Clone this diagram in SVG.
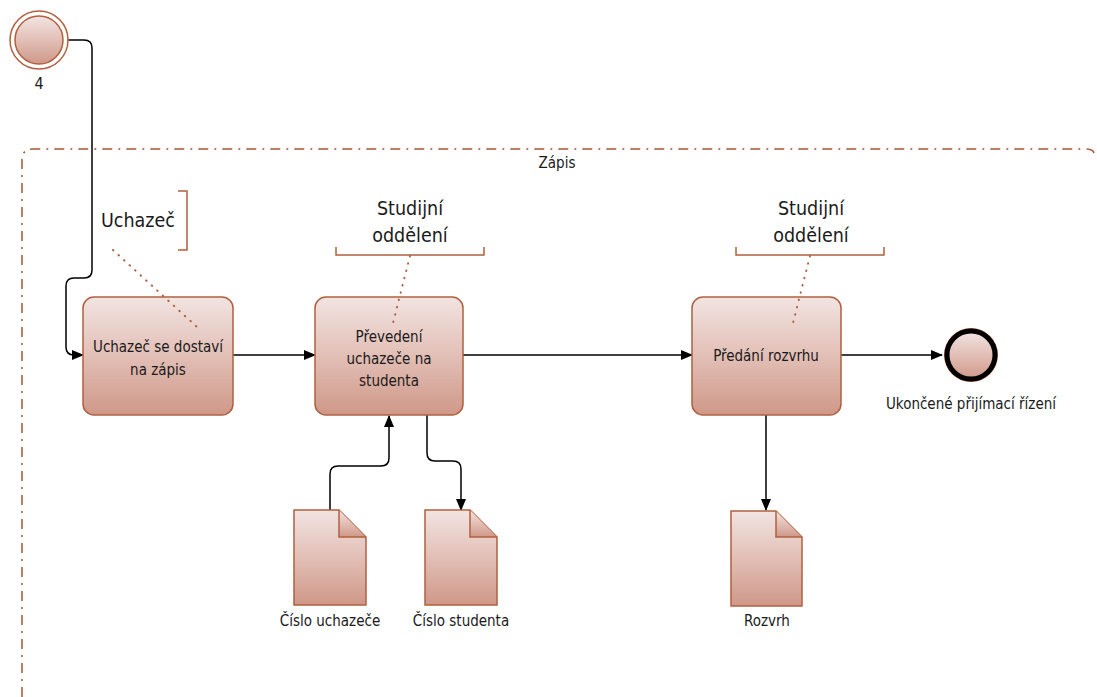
<svg xmlns="http://www.w3.org/2000/svg" width="1097" height="697" viewBox="0 0 1097 697">
<defs>
<linearGradient id="g" x1="0" y1="0" x2="0" y2="1">
<stop offset="0" stop-color="#f2e4e2"/>
<stop offset="0.5" stop-color="#e2bfb6"/>
<stop offset="1" stop-color="#cf9888"/>
</linearGradient>
<marker id="arr" markerWidth="12" markerHeight="10" refX="11" refY="5" orient="auto" markerUnits="userSpaceOnUse">
<path d="M0,0 L12,5 L0,10 Z" fill="#000"/>
</marker>
<style>
.shape{fill:url(#g);stroke:#b0603f;stroke-width:1.5}
.conn{fill:none;stroke:#000;stroke-width:1.5}
.t{font-family:"DejaVu Sans Condensed","Liberation Sans",sans-serif;font-size:15px;fill:#1a1a1a;text-anchor:middle}
.a{font-family:"DejaVu Sans Condensed","Liberation Sans",sans-serif;font-size:19.5px;fill:#1a1a1a;text-anchor:middle}
.br{fill:none;stroke:#b0603f;stroke-width:1.5}
.dot{fill:none;stroke:#b0603f;stroke-width:2;stroke-linecap:round;stroke-dasharray:0.5 7}
</style>
</defs>
<g id="pool">
<path d="M22,697 L22,160 Q22,149 33,149 L1085,149 Q1093,149 1094,153" fill="none" stroke="#a9552f" stroke-width="1.5" stroke-dasharray="10 6 2 6"/>
<text x="557" y="168" class="t">Zápis</text>
</g>
<g id="connectors">
<path class="conn" d="M68,40 L84,40 Q92,40 92,48 L92,270 Q92,278 84,278 L74,278 Q66,278 66,286 L66,347 Q66,355 74,355 L83,355" marker-end="url(#arr)"/>
<path class="conn" d="M233,355 L315,355" marker-end="url(#arr)"/>
<path class="conn" d="M463,355 L692,355" marker-end="url(#arr)"/>
<path class="conn" d="M841,355 L942,355" marker-end="url(#arr)"/>
<path class="conn" d="M330,510 L330,474 Q330,466 338,466 L381,466 Q389,466 389,458 L389,416" marker-end="url(#arr)"/>
<path class="conn" d="M427,415 L427,453 Q427,461 435,461 L453,461 Q461,461 461,469 L461,510" marker-end="url(#arr)"/>
<path class="conn" d="M766,415 L766,510" marker-end="url(#arr)"/>
</g>
<g id="start">
<circle cx="39" cy="40" r="29" fill="#fff" stroke="#b0603f" stroke-width="1.5"/>
<circle cx="39" cy="40" r="24" class="shape"/>
<text x="39" y="89" class="t" style="font-size:16px">4</text>
</g>
<g id="task1">
<rect x="83" y="297" width="150" height="118" rx="11" class="shape"/>
<text x="158" y="352" class="t">Uchazeč se dostaví</text>
<text x="158" y="375" class="t">na zápis</text>
</g>
<g id="task2">
<rect x="315" y="297" width="148" height="118" rx="11" class="shape"/>
<text x="389" y="342" class="t">Převedení</text>
<text x="389" y="364" class="t">uchazeče na</text>
<text x="389" y="386" class="t">studenta</text>
</g>
<g id="task3">
<rect x="692" y="297" width="149" height="118" rx="11" class="shape"/>
<text x="766" y="361" class="t">Předání rozvrhu</text>
</g>
<g id="ann1">
<path class="br" d="M178,191 L187,191 L187,250 L178,250"/>
<text x="138" y="227" class="a">Uchazeč</text>
<path class="dot" d="M113,250 L197,327"/>
</g>
<g id="ann2">
<path class="br" d="M336,247 L336,255 L484,255 L484,247"/>
<text x="410" y="215" class="a">Studijní</text>
<text x="410" y="242" class="a">oddělení</text>
<path class="dot" d="M410,256 L393,323"/>
</g>
<g id="ann3">
<path class="br" d="M736,247 L736,255 L884,255 L884,247"/>
<text x="811" y="215" class="a">Studijní</text>
<text x="811" y="242" class="a">oddělení</text>
<path class="dot" d="M810,256 L793,323"/>
</g>
<g id="end">
<circle cx="971" cy="355" r="27" fill="#b0603f"/>
<circle cx="971" cy="355" r="24" fill="url(#g)" stroke="#000" stroke-width="5"/>
<text x="971" y="409" class="t">Ukončené přijímací řízení</text>
</g>
<g id="doc1">
<path class="shape" d="M294,510 L339,510 L366,537 L366,605 L294,605 Z"/>
<path class="shape" d="M339,510 L339,537 L366,537"/>
<text x="330" y="626" class="t">Číslo uchazeče</text>
</g>
<g id="doc2">
<path class="shape" d="M425,510 L470,510 L497,537 L497,605 L425,605 Z"/>
<path class="shape" d="M470,510 L470,537 L497,537"/>
<text x="461" y="626" class="t">Číslo studenta</text>
</g>
<g id="doc3">
<path class="shape" d="M731,511 L776,511 L802,537 L802,606 L731,606 Z"/>
<path class="shape" d="M776,511 L776,537 L802,537"/>
<text x="767" y="626" class="t">Rozvrh</text>
</g>
</svg>
